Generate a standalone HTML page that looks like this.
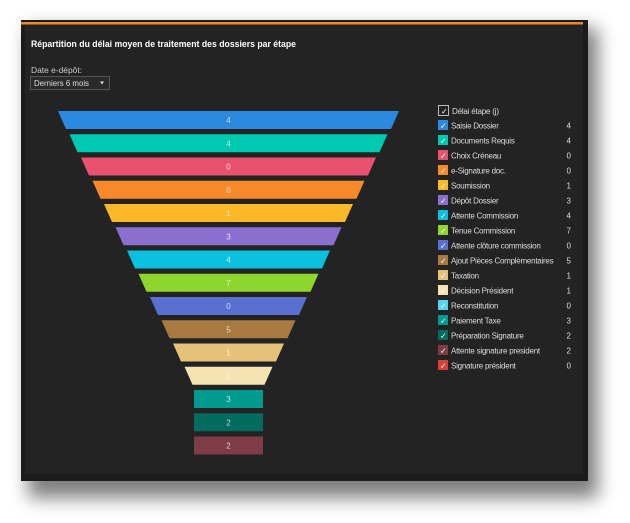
<!DOCTYPE html>
<html><head><meta charset="utf-8"><style>
html,body{margin:0;padding:0;background:#fff;}
body{width:630px;height:523px;overflow:hidden;position:relative;font-family:"Liberation Sans",sans-serif;}
</style></head><body>
<svg width="630" height="523" style="position:absolute;left:0;top:0">
<defs>
<filter id="sh" x="-20%" y="-20%" width="140%" height="140%"><feGaussianBlur stdDeviation="9"/></filter>
</defs>
<rect x="28" y="28" width="570" height="470" fill="#000" opacity="0.5" filter="url(#sh)"/>
<rect x="21" y="20" width="567" height="461" fill="#1b1b1b"/>
<rect x="25" y="22" width="558" height="452" fill="#232323"/>
<rect x="21" y="22" width="562" height="2.5" fill="#f08a24"/>
<text x="31" y="47" fill="#fff" font-size="9" font-weight="bold" textLength="265" lengthAdjust="spacingAndGlyphs">Répartition du délai moyen de traitement des dossiers par étape</text>
<text x="31" y="73" fill="#ccc" font-size="8.5" textLength="51" lengthAdjust="spacingAndGlyphs">Date e-dépôt:</text>
<rect x="30.5" y="76.5" width="79" height="13" fill="#2a2a2a" stroke="#555"/>
<text x="34" y="86" fill="#ddd" font-size="8.5" textLength="55" lengthAdjust="spacingAndGlyphs">Derniers 6 mois</text>
<path d="M100 81.5l4 0-2 3z" fill="#ddd"/>
<g id="f" font-size="8" fill="#ddd" text-anchor="middle"></g>
<g id="l" font-size="8.5" fill="#ddd"></g>
</svg>
<script>
var bars=[["#2b89e0",4],["#00c9b1",4],["#e8526f",0],["#f8892b",0],["#fbb929",1],["#8b6fcf",3],["#0bbfdf",4],["#8ed62e",7],["#5a6fcf",0],["#a87a40",5],["#e4c27a",1],["#f5e3b3",1],["#009a8e",3],["#006b5e",2],["#7e3d46",2]];
var f=document.getElementById("f"),s="";
bars.forEach(function(b,i){var y=111+23.25*i,c=228.5,t,bt;
if(i<12){t=170.5-11.5*i;bt=t-8;}else{t=bt=34.5;}
s+='<polygon points="'+(c-t)+','+y+' '+(c+t)+','+y+' '+(c+bt)+','+(y+18)+' '+(c-bt)+','+(y+18)+'" fill="'+b[0]+'"/>';
s+='<text x="'+c+'" y="'+(y+12)+'" fill="rgba(255,255,255,0.75)">'+b[1]+'</text>';});
f.innerHTML=s;
var leg=[["#2b89e0","Saisie Dossier",4],["#00c9b1","Documents Requis",4],["#e8526f","Choix Créneau",0],["#f8892b","e-Signature doc.",0],["#fbb929","Soumission",1],["#8b6fcf","Dépôt Dossier",3],["#0bbfdf","Attente Commission",4],["#8ed62e","Tenue Commission",7],["#5a6fcf","Attente clôture commission",0],["#a87a40","Ajout Pièces Complèmentaires",5],["#e4c27a","Taxation",1],["#f5e3b3","Décision Président",1],["#55d4f0","Reconstitution",0],["#009a8e","Paiement Taxe",3],["#006b5e","Préparation Signature",2],["#7e3d46","Attente signature president",2],["#d84038","Signature président",0]];
var l=document.getElementById("l");
s='<rect x="438.5" y="105.5" width="10" height="10" fill="none" stroke="#bbb"/><text x="441" y="114" fill="#fff" font-size="8">✓</text><text x="452" y="114" font-size="8" letter-spacing="-0.2">Délai étape (j)</text>';
leg.forEach(function(e,i){var y=120+15*i;
s+='<rect x="438" y="'+y+'" width="10" height="10" fill="'+e[0]+'"/><text x="440" y="'+(y+8.5)+'" fill="#fff" font-size="8">✓</text>';
s+='<text x="451" y="'+(y+8.5)+'" font-size="8" letter-spacing="-0.25">'+e[1]+'</text><text x="571" y="'+(y+8.5)+'" text-anchor="end" font-size="8">'+e[2]+'</text>';});
l.innerHTML=s;
</script>
</body></html>
